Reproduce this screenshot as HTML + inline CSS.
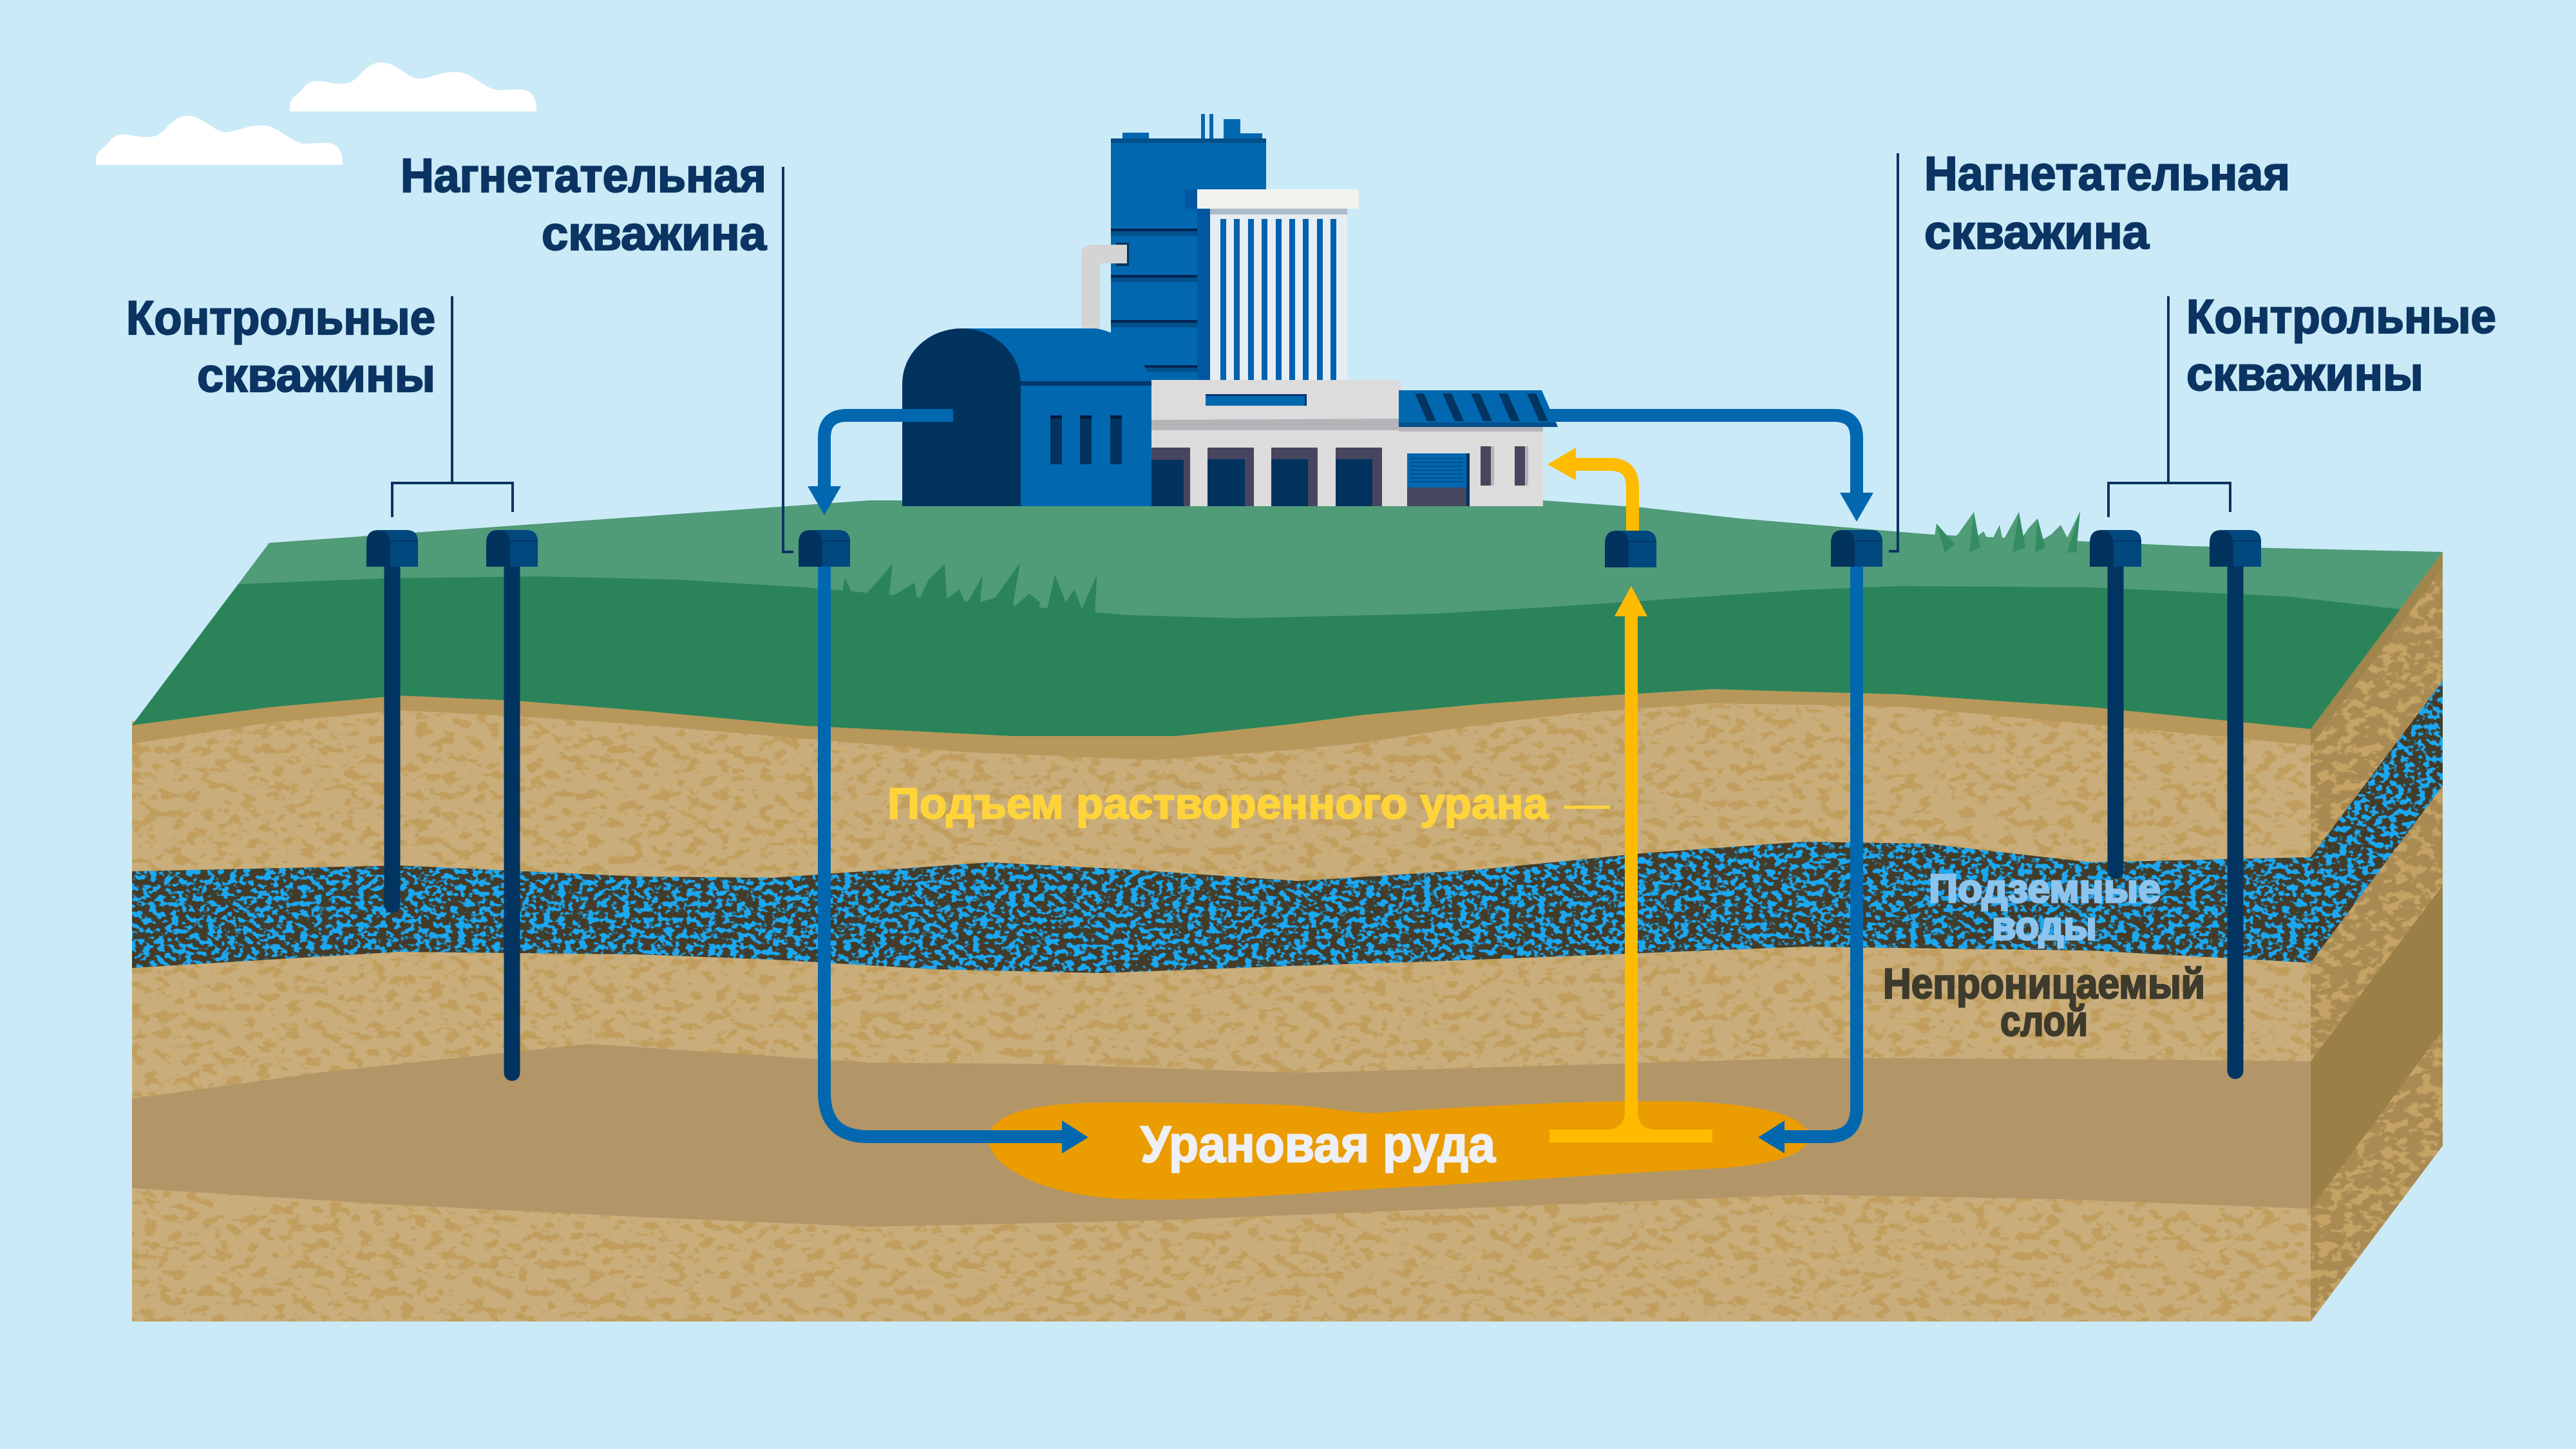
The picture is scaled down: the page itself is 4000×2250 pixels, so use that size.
<!DOCTYPE html>
<html>
<head>
<meta charset="utf-8">
<style>
html,body{margin:0;padding:0;background:#caeaf8;}
svg{display:block;}
text{font-family:"Liberation Sans","DejaVu Sans",sans-serif;font-weight:700;}
</style>
</head>
<body>
<svg xmlns="http://www.w3.org/2000/svg" width="4000" height="2250" viewBox="0 0 4000 2250">
<defs>
  <filter id="tf" filterUnits="userSpaceOnUse" x="0" y="700" width="4000" height="1400" color-interpolation-filters="sRGB">
    <feTurbulence type="fractalNoise" baseFrequency="0.045 0.07" numOctaves="3" seed="7" result="n"/>
    <feColorMatrix in="n" type="matrix" values="0 0 0 0 0.757  0 0 0 0 0.620  0 0 0 0 0.365  -10 0 0 0 4.7" result="m"/>
    <feComposite in="m" in2="SourceGraphic" operator="in"/>
  </filter>
  <filter id="tf2" filterUnits="userSpaceOnUse" x="0" y="700" width="4000" height="1400" color-interpolation-filters="sRGB">
    <feTurbulence type="fractalNoise" baseFrequency="0.05 0.07" numOctaves="3" seed="11" result="n"/>
    <feColorMatrix in="n" type="matrix" values="0 0 0 0 0.769  0 0 0 0 0.639  0 0 0 0 0.392  -10 0 0 0 5.0" result="m"/>
    <feComposite in="m" in2="SourceGraphic" operator="in"/>
  </filter>
  <filter id="af" filterUnits="userSpaceOnUse" x="0" y="1000" width="4000" height="600" color-interpolation-filters="sRGB">
    <feTurbulence type="fractalNoise" baseFrequency="0.09 0.12" numOctaves="2" seed="3" result="n"/>
    <feColorMatrix in="n" type="matrix" values="0 0 0 0 0.106  0 0 0 0 0.659  0 0 0 0 0.949  12 0 0 0 -5.9" result="m"/>
    <feComposite in="m" in2="SourceGraphic" operator="in"/>
  </filter>
</defs>

<rect x="0" y="0" width="4000" height="2250" fill="#caeaf8"/>

<path d="M450,173 L450,163 C452,150 462,148 470,138 C478,126 490,124 505,127 C520,130 533,132 545,127 C560,120 570,95 595,97 C620,99 635,125 655,122 C675,119 690,110 712,112 C735,114 755,140 775,140 C795,140 815,135 825,145 C833,155 833,165 833,173 Z" fill="#ffffff"/>
<path d="M450,173 L450,163 C452,150 462,148 470,138 C478,126 490,124 505,127 C520,130 533,132 545,127 C560,120 570,95 595,97 C620,99 635,125 655,122 C675,119 690,110 712,112 C735,114 755,140 775,140 C795,140 815,135 825,145 C833,155 833,165 833,173 Z" fill="#ffffff" transform="translate(-301,83)"/>

<path d="M205,1120 L420,1092 L620,1074 L800,1082 L991,1097 L1250,1121 L1575,1137 L1825,1137 L2000,1119 L2117,1104 L2300,1087 L2443,1077 L2660,1064 L2800,1068 L2950,1072 L3247,1092 L3588,1126 L3588,2052 L205,2052 Z" fill="#c9ae7c"/>
<path d="M205,1120 L420,1092 L620,1074 L800,1082 L991,1097 L1250,1121 L1575,1137 L1825,1137 L2000,1119 L2117,1104 L2300,1087 L2443,1077 L2660,1064 L2800,1068 L2950,1072 L3247,1092 L3588,1126 L3588,2052 L205,2052 Z" fill="#000" filter="url(#tf)"/>
<path d="M205,1124 L420,1096 L620,1078 L800,1086 L991,1101 L1250,1125 L1575,1141 L1825,1141 L2000,1123 L2117,1108 L2300,1091 L2443,1081 L2660,1068 L2800,1072 L2950,1076 L3247,1096 L3588,1130 L3588,1157 L3247,1125 L2950,1097 L2660,1092 L2443,1108 L2300,1125 L2117,1153 L2000,1165 L1792,1180 L1500,1168 L1250,1147 L991,1125 L800,1112 L620,1103 L420,1122 L205,1155 Z" fill="#b8975b"/>
<path d="M205,1353 L620,1344 L991,1361 L1200,1363 L1537,1339 L1750,1350 L2016,1368 L2300,1350 L2550,1325 L2800,1307 L2991,1310 L3247,1339 L3588,1331 L3588,1495 L3247,1476 L2800,1470 L2500,1482 L2220,1493 L2000,1500 L1710,1511 L1450,1505 L1200,1490 L991,1482 L620,1478 L205,1503 Z" fill="#433c2a"/>
<path d="M205,1353 L620,1344 L991,1361 L1200,1363 L1537,1339 L1750,1350 L2016,1368 L2300,1350 L2550,1325 L2800,1307 L2991,1310 L3247,1339 L3588,1331 L3588,1495 L3247,1476 L2800,1470 L2500,1482 L2220,1493 L2000,1500 L1710,1511 L1450,1505 L1200,1490 L991,1482 L620,1478 L205,1503 Z" fill="#000" filter="url(#af)"/>
<path d="M205,1706 L500,1665 L915,1621 L1350,1650 L1600,1652 L2016,1666 L2400,1655 L2800,1643 L3200,1644 L3588,1648 L3588,1877 L3200,1862 L2800,1855 L2300,1875 L1800,1895 L1350,1905 L1000,1890 L600,1870 L205,1845 Z" fill="#b39667"/>

<path d="M3588,1132 L3793,857 L3793,1779 L3588,2052 Z" fill="#a98a53"/>
<path d="M3588,1132 L3793,857 L3793,1779 L3588,2052 Z" fill="#000" filter="url(#tf2)"/>
<path d="M3588,1132 L3793,857 L3793,882 L3588,1158 Z" fill="#a0864c"/>
<path d="M3588,1331 L3793,1057 L3793,1220 L3588,1495 Z" fill="#433c2a"/>
<path d="M3588,1331 L3793,1057 L3793,1220 L3588,1495 Z" fill="#000" filter="url(#af)"/>
<path d="M3588,1648 L3793,1375 L3793,1599 L3588,1877 Z" fill="#9a7f46"/>

<path d="M418,843 L1350,777 L2396,777 L2550,788 L2700,805 L3000,830 L3400,848 L3793,857 L3588,1132 L3247,1098 L2950,1078 L2800,1074 L2660,1070 L2443,1083 L2300,1093 L2117,1110 L2000,1125 L1825,1143 L1575,1143 L1250,1127 L991,1103 L800,1088 L620,1080 L420,1098 L205,1126 Z" fill="#509b78"/>
<path d="M370,907 L600,898 L839,895 L1050,900 L1250,912 L1400,925 L1575,940 L1750,955 L1922,960 L2226,953 L2400,943 L2551,933 L2800,916 L2950,910 L3247,912 L3550,926 L3727,946 L3588,1132 L3247,1098 L2950,1078 L2800,1074 L2660,1070 L2443,1083 L2300,1093 L2117,1110 L2000,1125 L1825,1143 L1575,1143 L1250,1127 L991,1103 L800,1088 L620,1080 L420,1098 L205,1126 Z" fill="#2b8459"/>

<path d="M1300,958 L1312,897 L1330,935 L1345,922 L1386,876 L1380,930 L1398,918 L1420,905 L1425,935 L1442,900 L1467,876 L1470,930 L1490,915 L1500,940 L1526,893 L1522,935 L1545,928 L1584,874 L1572,945 L1598,922 L1615,935 L1612,958 Z" fill="#2b8459"/>
<path d="M1622,962 L1638,893 L1655,935 L1668,915 L1680,945 L1703,893 L1700,962 Z" fill="#2b8459"/>
<path d="M3000,860 L3007,813 L3025,840 L3040,830 L3065,795 L3062,840 L3080,825 L3090,845 L3105,815 L3110,840 L3135,795 L3138,838 L3150,820 L3164,805 L3168,840 L3185,830 L3200,815 L3210,835 L3230,794 L3222,860 Z" fill="#509b78"/>
<path d="M3020,858 L3007,813 L3035,845 Z M3058,858 L3065,795 L3075,850 Z M3125,858 L3135,795 L3145,850 Z M3160,858 L3164,805 L3176,850 Z M3210,858 L3230,794 L3224,858 Z" fill="#338c62"/>

<path d="M2300,645 H2848 Q2883,645 2883,680 V767" fill="none" stroke="#0168b0" stroke-width="20"/>
<polygon points="2857,765 2909,765 2883,810" fill="#0168b0"/>

<g>
  <rect x="1743" y="206" width="41" height="10" fill="#0168b0"/>
  <rect x="1865" y="177" width="6" height="40" fill="#0168b0"/>
  <rect x="1878" y="177" width="6" height="40" fill="#0168b0"/>
  <rect x="1900" y="185" width="26" height="32" fill="#0168b0"/>
  <rect x="1926" y="207" width="34" height="10" fill="#0168b0"/>
  <rect x="1725" y="215" width="241" height="380" fill="#0168b0"/>
  <rect x="1725" y="215" width="241" height="7" fill="#024f8a"/>
  <rect x="1725" y="355" width="154" height="4" fill="#03234f"/>
  <rect x="1725" y="359" width="154" height="7" fill="#02508c"/>
  <rect x="1725" y="427" width="154" height="4" fill="#03234f"/>
  <rect x="1725" y="431" width="154" height="7" fill="#02508c"/>
  <rect x="1725" y="497" width="154" height="4" fill="#03234f"/>
  <rect x="1725" y="501" width="154" height="7" fill="#02508c"/>
  <rect x="1725" y="567" width="154" height="4" fill="#03234f"/>
  <rect x="1725" y="571" width="154" height="7" fill="#02508c"/>
  <rect x="1840" y="294" width="20" height="30" fill="#0157a0"/>
  <rect x="1859" y="324" width="20" height="270" fill="#0157a0"/>
  <rect x="1733" y="377" width="20" height="36" fill="#02335f"/>
  <path d="M1679,520 V396 Q1679,380 1695,380 H1750 V409 H1708 V520 Z" fill="#d4d4d4"/>
  <rect x="1859" y="294" width="251" height="30" fill="#f2f3ec"/>
  <rect x="1879" y="324" width="213" height="9" fill="#aebbc8"/>
  <rect x="1879" y="333" width="213" height="260" fill="#e6edf3"/>
  <g fill="#0062ae">
    <rect x="1895" y="340" width="9" height="252"/>
    <rect x="1916" y="340" width="9" height="252"/>
    <rect x="1938" y="340" width="9" height="252"/>
    <rect x="1959" y="340" width="9" height="252"/>
    <rect x="1981" y="340" width="9" height="252"/>
    <rect x="2002" y="340" width="9" height="252"/>
    <rect x="2023" y="340" width="9" height="252"/>
    <rect x="2045" y="340" width="9" height="252"/>
    <rect x="2066" y="340" width="9" height="252"/>
  </g>
  <path d="M1493,510 H1700 C1745,515 1778,555 1788,598 V786 H1493 Z" fill="#0168b0"/>
  <path d="M1401,786 V596 A92,86 0 0 1 1585,596 V786 Z" fill="#02335f"/>
  <rect x="1585" y="592" width="203" height="7" fill="#023a6a"/>
  <rect x="1631" y="645" width="18" height="76" fill="#02335f"/>
  <rect x="1677" y="645" width="18" height="76" fill="#02335f"/>
  <rect x="1724" y="645" width="18" height="76" fill="#02335f"/>
  <rect x="1631" y="645" width="18" height="5" fill="#011a3a"/>
  <rect x="1677" y="645" width="18" height="5" fill="#011a3a"/>
  <rect x="1724" y="645" width="18" height="5" fill="#011a3a"/>
  <rect x="1788" y="660" width="608" height="126" fill="#dcdcdc"/>
  <polygon points="1788,590 2172,590 2199,650 1788,652" fill="#dcdcdc"/>
  <rect x="1872" y="612" width="157" height="18" fill="#0168b0"/>
  <rect x="1872" y="612" width="157" height="3" fill="#022d6b"/>
  <rect x="2026" y="612" width="3" height="18" fill="#022d6b"/>
  <polygon points="1788,652 2180,650 2180,668 1788,668" fill="#b4b4b8"/>
  <rect x="2172" y="663" width="224" height="7" fill="#b4b4b8"/>
  <polygon points="2172,606 2394,606 2419,663 2172,663" fill="#0168b0"/>
  <g fill="#023461">
    <polygon points="2197,611 2211,611 2230,654 2216,654"/>
    <polygon points="2240,611 2254,611 2273,654 2259,654"/>
    <polygon points="2284,611 2298,611 2317,654 2303,654"/>
    <polygon points="2327,611 2341,611 2360,654 2346,654"/>
    <polygon points="2371,611 2385,611 2404,654 2390,654"/>
  </g>
  <polygon points="2172,656 2416,656 2419,663 2172,663" fill="#024f8a"/>
  <g fill="#46465e">
    <rect x="1788" y="695" width="60" height="91"/>
    <rect x="1875" y="695" width="72" height="91"/>
    <rect x="1974" y="695" width="72" height="91"/>
    <rect x="2074" y="695" width="72" height="91"/>
  </g>
  <g fill="#02335f">
    <rect x="1788" y="714" width="50" height="72"/>
    <rect x="1875" y="713" width="58" height="73"/>
    <rect x="1974" y="713" width="57" height="73"/>
    <rect x="2074" y="713" width="57" height="73"/>
  </g>
  <rect x="2185" y="704" width="97" height="82" fill="#46465e"/>
  <rect x="2185" y="704" width="92" height="53" fill="#0168b0"/>
  <g fill="#024f8a">
    <rect x="2190" y="711" width="82" height="2"/>
    <rect x="2190" y="717" width="82" height="2"/>
    <rect x="2190" y="723" width="82" height="2"/>
    <rect x="2190" y="729" width="82" height="2"/>
    <rect x="2190" y="735" width="82" height="2"/>
    <rect x="2190" y="741" width="82" height="2"/>
    <rect x="2190" y="747" width="82" height="2"/>
  </g>
  <rect x="2277" y="704" width="5" height="82" fill="#02335f"/>
  <rect x="2299" y="693" width="16" height="61" fill="#46465e"/>
  <rect x="2315" y="693" width="5" height="61" fill="#b4b4b8"/>
  <rect x="2352" y="693" width="16" height="61" fill="#46465e"/>
  <rect x="2368" y="693" width="5" height="61" fill="#b4b4b8"/>
</g>

<path d="M1480,645 H1315 Q1280,645 1280,680 V758" fill="none" stroke="#0168b0" stroke-width="20"/>
<polygon points="1254,755 1306,755 1280,800" fill="#0168b0"/>

<path d="M1535,1765 C1540,1725 1620,1712 1720,1712 C1850,1712 1950,1714 2000,1716 C2060,1718 2100,1730 2140,1728 C2250,1720 2450,1708 2600,1710 C2720,1712 2800,1730 2808,1760 C2815,1790 2760,1810 2650,1815 C2450,1825 2300,1838 2150,1845 C1950,1858 1850,1865 1750,1862 C1620,1858 1530,1810 1535,1765 Z" fill="#eb9c00"/>

<path d="M1280,880 V1697 Q1280,1765 1348,1765 H1651" fill="none" stroke="#0168b0" stroke-width="20"/>
<polygon points="1649,1740 1649,1791 1690,1766" fill="#0168b0"/>
<path d="M2883,879 V1720 Q2883,1765 2838,1765 H2769" fill="none" stroke="#0168b0" stroke-width="20"/>
<polygon points="2771,1740 2771,1791 2730,1766" fill="#0168b0"/>

<g stroke="#023461" stroke-width="25" stroke-linecap="round" fill="none">
  <path d="M609,875 V1405"/>
  <path d="M795,875 V1666"/>
  <path d="M3285,875 V1352"/>
  <path d="M3471,875 V1663"/>
</g>

<path d="M2533,957 V1764" fill="none" stroke="#ffbb00" stroke-width="20"/>
<rect x="2406" y="1754" width="253" height="20" fill="#ffbb00"/>
<path d="M2523,1725 Q2523,1754 2494,1754 H2572 Q2543,1754 2543,1725 Z" fill="#ffbb00"/>
<polygon points="2507,957 2558,957 2533,910" fill="#ffbb00"/>
<path d="M2535,826 V756 Q2535,721 2500,721 H2445" fill="none" stroke="#ffbb00" stroke-width="20"/>
<polygon points="2447,695 2447,746 2403,721" fill="#ffbb00"/>

<g>
  <g transform="translate(569,823)"><path d="M0,57 V20 Q0,0 18,0 Q37,0 37,20 V57 Z" fill="#02335f"/><path d="M18,0 H62 Q80,0 80,18 V57 H37 V20 Q37,0 18,0 Z" fill="#01487f"/><rect x="37" y="16" width="43" height="2" fill="#023461"/></g>
  <g transform="translate(755,823)"><path d="M0,57 V20 Q0,0 18,0 Q37,0 37,20 V57 Z" fill="#02335f"/><path d="M18,0 H62 Q80,0 80,18 V57 H37 V20 Q37,0 18,0 Z" fill="#01487f"/><rect x="37" y="16" width="43" height="2" fill="#023461"/></g>
  <g transform="translate(1240,823)"><path d="M0,57 V20 Q0,0 18,0 Q37,0 37,20 V57 Z" fill="#02335f"/><path d="M18,0 H62 Q80,0 80,18 V57 H37 V20 Q37,0 18,0 Z" fill="#01487f"/><rect x="37" y="16" width="43" height="2" fill="#023461"/></g>
  <g transform="translate(2492,824)"><path d="M0,57 V20 Q0,0 18,0 Q37,0 37,20 V57 Z" fill="#02335f"/><path d="M18,0 H62 Q80,0 80,18 V57 H37 V20 Q37,0 18,0 Z" fill="#01487f"/><rect x="37" y="16" width="43" height="2" fill="#023461"/></g>
  <g transform="translate(2843,823)"><path d="M0,57 V20 Q0,0 18,0 Q37,0 37,20 V57 Z" fill="#02335f"/><path d="M18,0 H62 Q80,0 80,18 V57 H37 V20 Q37,0 18,0 Z" fill="#01487f"/><rect x="37" y="16" width="43" height="2" fill="#023461"/></g>
  <g transform="translate(3245,823)"><path d="M0,57 V20 Q0,0 18,0 Q37,0 37,20 V57 Z" fill="#02335f"/><path d="M18,0 H62 Q80,0 80,18 V57 H37 V20 Q37,0 18,0 Z" fill="#01487f"/><rect x="37" y="16" width="43" height="2" fill="#023461"/></g>
  <g transform="translate(3431,823)"><path d="M0,57 V20 Q0,0 18,0 Q37,0 37,20 V57 Z" fill="#02335f"/><path d="M18,0 H62 Q80,0 80,18 V57 H37 V20 Q37,0 18,0 Z" fill="#01487f"/><rect x="37" y="16" width="43" height="2" fill="#023461"/></g>
</g>

<g stroke="#0b3462" stroke-width="4" fill="none">
  <path d="M1216,259 V857 H1232"/>
  <path d="M2947,238 V856 H2933"/>
  <path d="M702,460 V750"/>
  <path d="M609,803 V750 H796 V795"/>
  <path d="M3367,460 V750"/>
  <path d="M3274,803 V750 H3463 V795"/>
</g>

<g fill="#0b3462" stroke="#0b3462" stroke-width="2.2" font-size="74">
  <text x="622" y="298" textLength="568" lengthAdjust="spacingAndGlyphs">Нагнетательная</text>
  <text x="841" y="388" textLength="349" lengthAdjust="spacingAndGlyphs">скважина</text>
  <text x="196" y="519" textLength="480" lengthAdjust="spacingAndGlyphs">Контрольные</text>
  <text x="306" y="608" textLength="370" lengthAdjust="spacingAndGlyphs">скважины</text>
  <text x="2988" y="295" textLength="568" lengthAdjust="spacingAndGlyphs">Нагнетательная</text>
  <text x="2988" y="386" textLength="349" lengthAdjust="spacingAndGlyphs">скважина</text>
  <text x="3395" y="517" textLength="481" lengthAdjust="spacingAndGlyphs">Контрольные</text>
  <text x="3395" y="606" textLength="368" lengthAdjust="spacingAndGlyphs">скважины</text>
</g>

<text x="1378" y="1271" font-size="68" fill="#ffd43b" stroke="#ffd43b" stroke-width="2" textLength="1026" lengthAdjust="spacingAndGlyphs">Подъем растворенного урана</text>
<rect x="2429" y="1251" width="71" height="5" fill="#ffd43b"/>

<text x="1771" y="1804" font-size="80" fill="#eef0f6" stroke="#eef0f6" stroke-width="2.2" textLength="551" lengthAdjust="spacingAndGlyphs">Урановая руда</text>

<g fill="#8cc4f0" stroke="#8cc4f0" stroke-width="3" font-size="62">
  <text x="2995" y="1401" textLength="360" lengthAdjust="spacingAndGlyphs">Подземные</text>
  <text x="3093" y="1459" textLength="163" lengthAdjust="spacingAndGlyphs">воды</text>
</g>
<g fill="#3e3a2c" stroke="#3e3a2c" stroke-width="2.5" font-size="66">
  <text x="2924" y="1550" textLength="500" lengthAdjust="spacingAndGlyphs">Непроницаемый</text>
  <text x="3106" y="1608" textLength="136" lengthAdjust="spacingAndGlyphs">слой</text>
</g>
</svg>
</body>
</html>
